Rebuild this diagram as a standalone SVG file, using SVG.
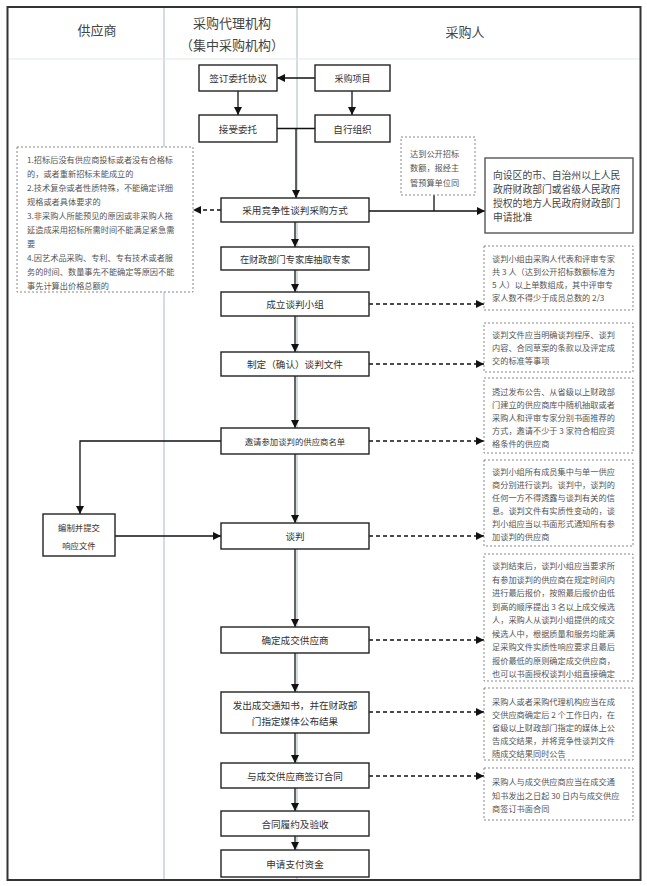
<svg xmlns="http://www.w3.org/2000/svg" width="647" height="886" viewBox="0 0 647 886">
<defs>
<marker id="arr" viewBox="0 0 10 10" refX="10" refY="5" markerWidth="8" markerHeight="8" markerUnits="userSpaceOnUse" orient="auto"><path d="M0,0 L10,5 L0,10 z" fill="#111"/></marker>
</defs>
<style>
text{font-family:"Noto Sans CJK SC","Liberation Sans",sans-serif;fill:#333}
.hd{font-size:13px;text-anchor:middle;dominant-baseline:central;fill:#444}
.b{fill:#fff;stroke:#222;stroke-width:1.4}
.d{fill:#fff;stroke:#888;stroke-width:1;stroke-dasharray:2 2}
.t{font-size:9.6px;text-anchor:middle;dominant-baseline:central}
.n{font-size:8.2px;fill:#555;dominant-baseline:central}
.c{fill:none;stroke:#111;stroke-width:1.3}
.cd{fill:none;stroke:#111;stroke-width:1.3;stroke-dasharray:4 3}
.lane{stroke:#b5c6cc;stroke-width:1.2}
</style>
<rect x="0" y="0" width="647" height="886" fill="#fff"/>
<g id="frame">
<line class="lane" x1="164" y1="8" x2="164" y2="879"/>
<line class="lane" x1="297" y1="8" x2="297" y2="879"/>
<line x1="8" y1="59" x2="640" y2="59" stroke="#e2e8ea" stroke-width="1"/>
<rect x="7.5" y="7" width="633" height="873" fill="none" stroke="#333" stroke-width="2"/>
<text class="hd" x="97" y="29">供应商</text>
<text class="hd" x="232" y="22">采购代理机构</text>
<text class="hd" x="232" y="44">（集中采购机构）</text>
<text class="hd" x="465" y="31">采购人</text>
</g>
<g id="connectors">
<line class="c" x1="315" y1="78" x2="277" y2="78" marker-end="url(#arr)"/>
<line class="c" x1="238" y1="91" x2="238" y2="115" marker-end="url(#arr)"/>
<line class="c" x1="352" y1="91" x2="352" y2="115" marker-end="url(#arr)"/>
<line class="c" x1="277" y1="128.5" x2="315" y2="128.5"/>
<line class="c" x1="296" y1="128.5" x2="296" y2="198" marker-end="url(#arr)"/>
<line class="cd" x1="221" y1="210" x2="193" y2="210" marker-end="url(#arr)"/>
<line class="c" x1="369" y1="211" x2="485" y2="211" marker-end="url(#arr)"/>
<line class="c" x1="434" y1="195" x2="434" y2="211"/>
<line class="c" x1="295" y1="222" x2="295" y2="247" marker-end="url(#arr)"/>
<line class="c" x1="295" y1="270" x2="295" y2="292" marker-end="url(#arr)"/>
<line class="c" x1="295" y1="316" x2="295" y2="352" marker-end="url(#arr)"/>
<line class="c" x1="295" y1="376" x2="295" y2="428" marker-end="url(#arr)"/>
<line class="c" x1="295" y1="454" x2="295" y2="523" marker-end="url(#arr)"/>
<line class="c" x1="295" y1="549" x2="295" y2="627" marker-end="url(#arr)"/>
<line class="c" x1="295" y1="653" x2="295" y2="692" marker-end="url(#arr)"/>
<line class="c" x1="295" y1="733" x2="295" y2="763" marker-end="url(#arr)"/>
<line class="c" x1="295" y1="788" x2="295" y2="811" marker-end="url(#arr)"/>
<line class="c" x1="295" y1="836" x2="295" y2="850" marker-end="url(#arr)"/>
<path class="c" d="M221,441 H80 V514" marker-end="url(#arr)"/>
<line class="c" x1="115" y1="536" x2="221" y2="536" marker-end="url(#arr)"/>
<line class="cd" x1="369" y1="304" x2="484" y2="304" marker-end="url(#arr)"/>
<line class="cd" x1="369" y1="364" x2="484" y2="364" marker-end="url(#arr)"/>
<line class="cd" x1="369" y1="441" x2="484" y2="441" marker-end="url(#arr)"/>
<line class="cd" x1="369" y1="536" x2="484" y2="536" marker-end="url(#arr)"/>
<line class="cd" x1="369" y1="640" x2="484" y2="640" marker-end="url(#arr)"/>
<line class="cd" x1="369" y1="712" x2="484" y2="712" marker-end="url(#arr)"/>
<line class="cd" x1="369" y1="776" x2="484" y2="776" marker-end="url(#arr)"/>
</g>
<g id="n-sign"><rect class="b" x="199" y="65" width="78" height="26"/><text class="t" x="238" y="78">签订委托协议</text></g>
<g id="n-project"><rect class="b" x="315" y="65" width="75" height="26"/><text class="t" x="352.5" y="78" style="font-size:9px">采购项目</text></g>
<g id="n-accept"><rect class="b" x="199" y="115" width="78" height="27"/><text class="t" x="238" y="128.5">接受委托</text></g>
<g id="n-self"><rect class="b" x="315" y="115" width="75" height="27"/><text class="t" x="352.5" y="128.5">自行组织</text></g>
<g id="n-method"><rect class="b" x="221" y="198" width="148" height="24"/><text class="t" x="295" y="210">采用竞争性谈判采购方式</text></g>
<g id="n-expert"><rect class="b" x="221" y="247" width="148" height="23"/><text class="t" x="295" y="258.5" style="font-size:9.2px">在财政部门专家库抽取专家</text></g>
<g id="n-team"><rect class="b" x="221" y="292" width="148" height="24"/><text class="t" x="295" y="304">成立谈判小组</text></g>
<g id="n-doc"><rect class="b" x="221" y="352" width="148" height="24"/><text class="t" x="295" y="364">制定（确认）谈判文件</text></g>
<g id="n-invite"><rect class="b" x="221" y="428" width="148" height="26"/><text class="t" x="295" y="441" style="font-size:8.4px">邀请参加谈判的供应商名单</text></g>
<g id="n-nego"><rect class="b" x="221" y="523" width="148" height="26"/><text class="t" x="295" y="536">谈判</text></g>
<g id="n-decide"><rect class="b" x="221" y="627" width="148" height="26"/><text class="t" x="295" y="640">确定成交供应商</text></g>
<g id="n-notice"><rect class="b" x="221" y="692" width="148" height="41"/><text class="t" x="295" y="705">发出成交通知书，并在财政部</text><text class="t" x="295" y="721">门指定媒体公布结果</text></g>
<g id="n-contract"><rect class="b" x="221" y="763" width="148" height="25"/><text class="t" x="295" y="775.5">与成交供应商签订合同</text></g>
<g id="n-perform"><rect class="b" x="221" y="811" width="148" height="25"/><text class="t" x="295" y="823.5">合同履约及验收</text></g>
<g id="n-pay"><rect class="b" x="221" y="850" width="148" height="27"/><text class="t" x="295" y="863.5">申请支付资金</text></g>
<g id="n-respond"><rect class="b" x="43" y="514" width="72" height="42"/><text class="t" x="79" y="527" style="font-size:8.4px">编制并提交</text><text class="t" x="79" y="545" style="font-size:8.4px">响应文件</text></g>
<g id="n-cases"><rect class="d" x="17" y="147" width="176" height="145"/>
<text class="n" x="27" y="159">1.招标后没有供应商投标或者没有合格标</text>
<text class="n" x="27" y="173">的，或者重新招标未能成立的</text>
<text class="n" x="27" y="187">2.技术复杂或者性质特殊，不能确定详细</text>
<text class="n" x="27" y="201">规格或者具体要求的</text>
<text class="n" x="27" y="215">3.非采购人所能预见的原因或非采购人拖</text>
<text class="n" x="27" y="229">延造成采用招标所需时间不能满足紧急需</text>
<text class="n" x="27" y="243">要</text>
<text class="n" x="27" y="257">4.因艺术品采购、专利、专有技术或者服</text>
<text class="n" x="27" y="271">务的时间、数量事先不能确定等原因不能</text>
<text class="n" x="27" y="285">事先计算出价格总额的</text>
</g>
<g id="n-threshold"><rect class="d" x="401" y="137" width="74" height="58"/>
<text class="n" x="410" y="153">达到公开招标</text>
<text class="n" x="410" y="167">数额，报经主</text>
<text class="n" x="410" y="182">管预算单位同</text>
</g>
<g id="n-approve"><rect class="b" x="485" y="158" width="148" height="75" style="stroke:#555"/>
<text class="n" x="493" y="175" style="font-size:9.8px;fill:#444">向设区的市、自治州以上人民</text>
<text class="n" x="493" y="189" style="font-size:9.8px;fill:#444">政府财政部门或省级人民政府</text>
<text class="n" x="493" y="203" style="font-size:9.8px;fill:#444">授权的地方人民政府财政部门</text>
<text class="n" x="493" y="217" style="font-size:9.8px;fill:#444">申请批准</text>
</g>
<g id="n-note1"><rect class="d" x="484" y="246" width="149" height="64"/>
<text class="n" x="492" y="258">谈判小组由采购人代表和评审专家</text>
<text class="n" x="492" y="271">共 3 人（达到公开招标数额标准为</text>
<text class="n" x="492" y="284">5 人）以上单数组成，其中评审专</text>
<text class="n" x="492" y="297">家人数不得少于成员总数的 2/3</text>
</g>
<g id="n-note2"><rect class="d" x="484" y="323" width="149" height="49"/>
<text class="n" x="492" y="334">谈判文件应当明确谈判程序、谈判</text>
<text class="n" x="492" y="347">内容、合同草案的条款以及评定成</text>
<text class="n" x="492" y="360">交的标准等事项</text>
</g>
<g id="n-note3"><rect class="d" x="484" y="378" width="149" height="75"/>
<text class="n" x="492" y="391">透过发布公告、从省级以上财政部</text>
<text class="n" x="492" y="404">门建立的供应商库中随机抽取或者</text>
<text class="n" x="492" y="417">采购人和评审专家分别书面推荐的</text>
<text class="n" x="492" y="430">方式，邀请不少于 3 家符合相应资</text>
<text class="n" x="492" y="443">格条件的供应商</text>
</g>
<g id="n-note4"><rect class="d" x="484" y="460" width="149" height="86"/>
<text class="n" x="492" y="471">谈判小组所有成员集中与单一供应</text>
<text class="n" x="492" y="484">商分别进行谈判。谈判中，谈判的</text>
<text class="n" x="492" y="497">任何一方不得透露与谈判有关的信</text>
<text class="n" x="492" y="510">息。谈判文件有实质性变动的，谈</text>
<text class="n" x="492" y="523">判小组应当以书面形式通知所有参</text>
<text class="n" x="492" y="536">加谈判的供应商</text>
</g>
<g id="n-note5"><rect class="d" x="484" y="554" width="149" height="127"/>
<text class="n" x="492" y="565">谈判结束后，谈判小组应当要求所</text>
<text class="n" x="492" y="578.5">有参加谈判的供应商在规定时间内</text>
<text class="n" x="492" y="592">进行最后报价，按照最后报价由低</text>
<text class="n" x="492" y="605.5">到高的顺序提出 3 名以上成交候选</text>
<text class="n" x="492" y="619">人，采购人从谈判小组提供的成交</text>
<text class="n" x="492" y="632.5">候选人中，根据质量和服务均能满</text>
<text class="n" x="492" y="646">足采购文件实质性响应要求且最后</text>
<text class="n" x="492" y="659.5">报价最低的原则确定成交供应商，</text>
<text class="n" x="492" y="673">也可以书面授权谈判小组直接确定</text>
</g>
<g id="n-note6"><rect class="d" x="484" y="688" width="149" height="72"/>
<text class="n" x="492" y="701">采购人或者采购代理机构应当在成</text>
<text class="n" x="492" y="714">交供应商确定后 2 个工作日内，在</text>
<text class="n" x="492" y="727">省级以上财政部门指定的媒体上公</text>
<text class="n" x="492" y="740">告成交结果，并将竞争性谈判文件</text>
<text class="n" x="492" y="753">随成交结果同时公告</text>
</g>
<g id="n-note7"><rect class="d" x="484" y="768" width="149" height="52"/>
<text class="n" x="492" y="781">采购人与成交供应商应当在成交通</text>
<text class="n" x="492" y="795">知书发出之日起 30 日内与成交供应</text>
<text class="n" x="492" y="808">商签订书面合同</text>
</g>
</svg>
